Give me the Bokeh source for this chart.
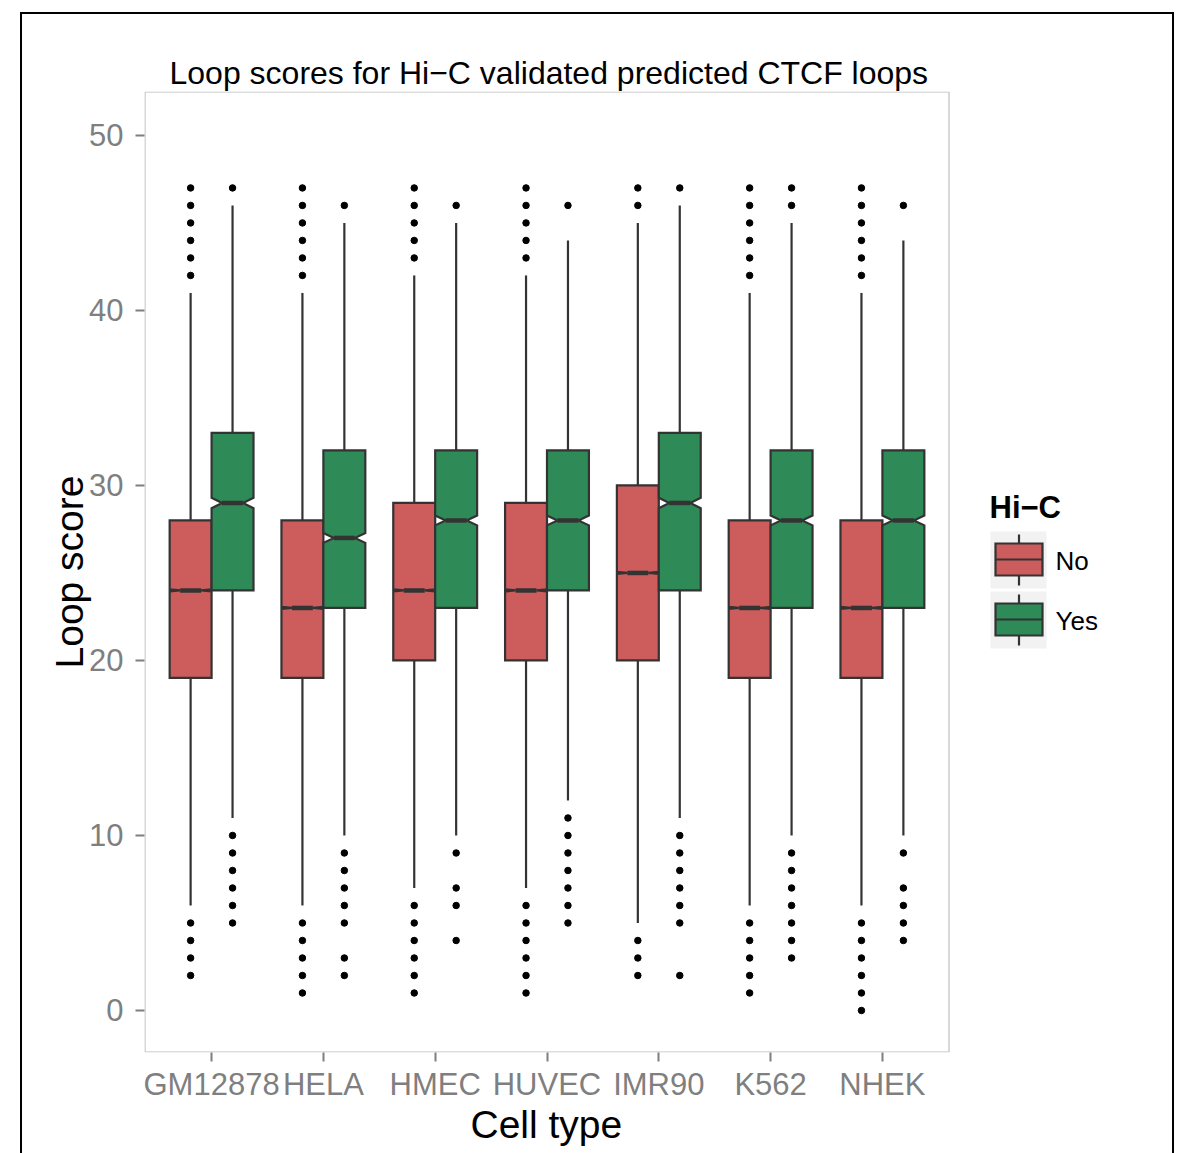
from bokeh.plotting import figure
from bokeh.models import Range1d, FixedTicker, Title, InlineStyleSheet
from bokeh.core.properties import value
from bokeh.embed import file_html
from bokeh.resources import INLINE

# ---------------- data ----------------
cats = ["GM12878", "HELA", "HMEC", "HUVEC", "IMR90", "K562", "NHEK"]
groups = ["No", "Yes"]
legend_title = "Hi\u2212C"

no_q1 = [19, 19, 20, 20, 20, 19, 19]
no_med = [24, 23, 24, 24, 25, 23, 23]
no_q3 = [28, 28, 29, 29, 30, 28, 28]
no_lo = [6, 6, 7, 7, 5, 6, 6]
no_hi = [41, 41, 42, 42, 45, 41, 41]
no_notch = [0.06, 0.06, 0.06, 0.06, 0.06, 0.06, 0.06]
no_out = [
    [42, 43, 44, 45, 46, 47, 2, 3, 4, 5],
    [42, 43, 44, 45, 46, 47, 1, 2, 3, 4, 5],
    [43, 44, 45, 46, 47, 1, 2, 3, 4, 5, 6],
    [43, 44, 45, 46, 47, 1, 2, 3, 4, 5, 6],
    [46, 47, 2, 3, 4],
    [42, 43, 44, 45, 46, 47, 1, 2, 3, 4, 5],
    [42, 43, 44, 45, 46, 47, 0, 1, 2, 3, 4, 5],
]

yes_q1 = [24, 23, 23, 24, 24, 23, 23]
yes_med = [29, 27, 28, 28, 29, 28, 28]
yes_q3 = [33, 32, 32, 32, 33, 32, 32]
yes_lo = [11, 10, 10, 12, 11, 10, 10]
yes_hi = [46, 45, 45, 44, 46, 45, 44]
yes_notch = [0.3, 0.28, 0.28, 0.28, 0.3, 0.28, 0.28]
yes_out = [
    [47, 5, 6, 7, 8, 9, 10],
    [46, 2, 3, 5, 6, 7, 8, 9],
    [46, 4, 6, 7, 9],
    [46, 5, 6, 7, 8, 9, 10, 11],
    [47, 2, 5, 6, 7, 8, 9, 10],
    [46, 47, 3, 4, 5, 6, 7, 8, 9],
    [46, 4, 5, 6, 7, 9],
]

y_ticks = [0, 10, 20, 30, 40, 50]
colors = {"No": "#CD5C5C", "Yes": "#2E8B57"}

# ---------------- layout geometry (pixels) ----------------
W = 1180
FL, FR, FT, FB = 144, 949, 91, 1052       # edges of the plot panel
X0, XP, Y0, Y1 = 0.4, 7.6, -2.4, 52.51    # panel data extents
PXU = (XP - X0) / (FR - FL)               # data units per pixel (x)
X1 = X0 + (W - FL) * PXU                  # frame extends right to hold the legend

def xd(px):
    return X0 + (px - FL) * PXU

def yd(py):
    return Y1 - (py - FT) * (Y1 - Y0) / (FB - FT)

FONT = "Liberation Sans"
EDGE = "#333333"
p = figure(frame_width=W - FL, frame_height=FB - FT, output_backend="svg",
           toolbar_location=None,
           x_range=Range1d(X0, X1), y_range=Range1d(Y0, Y1),
           min_border_left=FL, min_border_right=0, min_border_top=FT,
           min_border_bottom=101)
p.background_fill_color = "white"
p.border_fill_color = "white"
p.outline_line_color = None
p.xgrid.visible = False
p.ygrid.visible = False

# outer black frame of the picture (page decoration)
p.stylesheets = [InlineStyleSheet(css=(
    ":host::after { content: ''; position: absolute; left: 20px; top: 12px;"
    " width: 1154px; height: 1141px; border: 2px solid black;"
    " border-bottom: none; box-sizing: border-box; pointer-events: none; }"))]

p.title.text = "Loop scores for Hi\u2212C validated predicted CTCF loops"
p.title.align = "left"
p.title.offset = 25
p.title.text_font = FONT
p.title.text_font_size = "32px"
p.title.text_font_style = "normal"
p.title.text_color = "black"
p.title.standoff = 2

for ax in (p.xaxis[0], p.yaxis[0]):
    ax.axis_line_color = None
    ax.major_tick_line_color = "#7F7F7F"
    ax.major_tick_line_width = 2
    ax.major_tick_out = 9
    ax.major_tick_in = 0
    ax.minor_tick_line_color = None
    ax.major_label_text_color = "#7F7F7F"
    ax.major_label_text_font = FONT
    ax.major_label_text_font_size = "31px"
    ax.axis_label_text_font = FONT
    ax.axis_label_text_font_size = "39px"
    ax.axis_label_text_font_style = "normal"
    ax.axis_label_text_color = "black"

p.yaxis.ticker = FixedTicker(ticks=y_ticks)
p.yaxis.axis_label = "Loop score"
p.yaxis.major_label_standoff = 12
p.yaxis.axis_label_standoff = -5

xpos = list(range(1, len(cats) + 1))
p.xaxis.ticker = FixedTicker(ticks=xpos)
p.xaxis.major_label_overrides = {xp: c for xp, c in zip(xpos, cats)}
p.xaxis.major_label_standoff = 5

p.add_layout(Title(text="Cell type", align="left", offset=326, standoff=-7,
                   text_font=FONT, text_font_size="39px",
                   text_font_style="normal", text_color="black"), "below")

# panel border
p.quad(left=[xd(FL + 0.5)], right=[xd(FR - 0.5)], top=[yd(FT + 0.5)],
       bottom=[yd(FB - 0.5)], fill_color=None, line_color="#BEBEBE",
       line_width=1.2)

# ---------------- boxes ----------------
dodge = 0.1875
hw = 0.1875
stats = {
    "No": (no_q1, no_med, no_q3, no_lo, no_hi, no_notch, no_out, -dodge),
    "Yes": (yes_q1, yes_med, yes_q3, yes_lo, yes_hi, yes_notch, yes_out, dodge),
}

for i, xp in enumerate(xpos):
    for g in groups:
        q1, med, q3, lo, hi, notch, out, off = stats[g]
        c = xp + off
        p.segment(x0=[c, c], y0=[q3[i], q1[i]], x1=[c, c], y1=[hi[i], lo[i]],
                  line_color=EDGE, line_width=2.2)
        m, n = med[i], notch[i]
        xs = [c - hw, c - hw, c - hw / 2, c - hw, c - hw,
              c + hw, c + hw, c + hw / 2, c + hw, c + hw]
        ys = [q1[i], m - n, m, m + n, q3[i], q3[i], m + n, m, m - n, q1[i]]
        p.patch(xs, ys, fill_color=colors[g], line_color=EDGE, line_width=2.2,
                line_join="miter")
        p.segment(x0=[c - hw / 2], y0=[m], x1=[c + hw / 2], y1=[m],
                  line_color=EDGE, line_width=4.5)
        p.scatter([c] * len(out[i]), out[i], size=6.5, color="black")

# ---------------- legend (pixel positions mapped to data units) ----------------
p.text(x=[xd(989)], y=[yd(507)], text=[legend_title], text_font=value(FONT),
       text_font_size="31px", text_font_style="bold", text_baseline="middle",
       text_color="black")
for k, g in enumerate(groups):
    top = 531 + 60 * k
    cx = 1018.5
    p.quad(left=[xd(990)], right=[xd(1046)], top=[yd(top)], bottom=[yd(top + 57)],
           fill_color="#F2F2F2", line_color=None)
    p.segment(x0=[xd(cx)], y0=[yd(top + 3)], x1=[xd(cx)], y1=[yd(top + 54)],
              line_color=EDGE, line_width=2.2)
    p.quad(left=[xd(995)], right=[xd(1042)], top=[yd(top + 12)],
           bottom=[yd(top + 44)], fill_color=colors[g], line_color=EDGE,
           line_width=2.2, line_join="miter")
    p.segment(x0=[xd(995)], y0=[yd(top + 28)], x1=[xd(1042)], y1=[yd(top + 28)],
              line_color=EDGE, line_width=2.2)
    p.text(x=[xd(1055)], y=[yd(top + 29)], text=[g], text_font=value(FONT),
           text_font_size="26px", text_baseline="middle", text_color="black")

open("out.html", "w").write(file_html(p, INLINE))
